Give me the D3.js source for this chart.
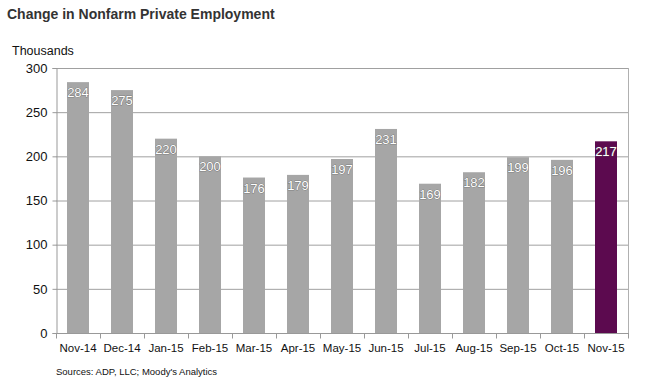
<!DOCTYPE html>
<html><head><meta charset="utf-8">
<script src="https://cdn.jsdelivr.net/npm/d3@7"></script>
<style>
body{margin:0;background:#fff;}
text{font-family:"Liberation Sans",Arial,sans-serif;}
</style></head>
<body>
<svg id="chart" width="653" height="383"></svg>
<script>
const categories = ["Nov-14","Dec-14","Jan-15","Feb-15","Mar-15","Apr-15","May-15","Jun-15","Jul-15","Aug-15","Sep-15","Oct-15","Nov-15"];
const values = [284,275,220,200,176,179,197,231,169,182,199,196,217];
const yTicks = [0,50,100,150,200,250,300];
const title = "Change in Nonfarm Private Employment";
const unitLabel = "Thousands";
const source = "Sources: ADP,  LLC; Moody's  Analytics";

const svg = d3.select("#chart");
const m = {left:56, right:628, top:68, bottom:333};
const x = d3.scaleBand().domain(categories).range([m.left, m.right]).paddingInner(0.5).paddingOuter(0.25);
const y = d3.scaleLinear().domain([0,300]).range([m.bottom, m.top]);

svg.append("text").attr("x",7).attr("y",19).attr("font-size",14).attr("font-weight","bold").attr("fill","#333").text(title);
svg.append("text").attr("x",12).attr("y",55).attr("font-size",12.5).attr("fill","#111").text(unitLabel);

// gridlines
svg.append("g").selectAll("line").data(yTicks.filter(d=>d>0)).join("line")
  .attr("x1",m.left).attr("x2",m.right).attr("y1",d=>y(d)+0.5).attr("y2",d=>y(d)+0.5)
  .attr("stroke","#a0a0a0").attr("stroke-width",1);
// right border
svg.append("line").attr("x1",m.right+0.5).attr("x2",m.right+0.5).attr("y1",m.top).attr("y2",m.bottom).attr("stroke","#b0b0b0");

// bars
svg.append("g").selectAll("rect").data(values).join("rect")
  .attr("x",(d,i)=>x(categories[i])).attr("width",x.bandwidth())
  .attr("y",d=>y(d)).attr("height",d=>y(0)-y(d))
  .attr("fill",(d,i)=>i===values.length-1?"#5c0a4f":"#a6a6a6");

// labels
const lab = svg.append("g").selectAll("text").data(values).join("text")
  .attr("x",(d,i)=>x(categories[i])+x.bandwidth()/2).attr("y",d=>y(d)+15)
  .attr("text-anchor","middle").attr("font-size",13).attr("fill","#fff")
  .attr("stroke","#555").attr("stroke-width",0.6).attr("paint-order","stroke")
  .text(d=>d);

// y axis
const yAxis = d3.axisLeft(y).tickValues(yTicks).tickSize(4).tickPadding(5);
const gy = svg.append("g").attr("transform",`translate(${m.left+0.5},0)`).call(yAxis);
gy.select(".domain").attr("stroke","#999");
gy.selectAll(".tick line").attr("stroke","#999");
gy.selectAll("text").attr("font-size",13).attr("fill","#111").attr("font-family","Liberation Sans, Arial, sans-serif");

// x axis
const xAxis = d3.axisBottom(x).tickSize(0).tickPadding(10);
const gx = svg.append("g").attr("transform",`translate(0,${m.bottom+0.5})`).call(xAxis);
gx.select(".domain").attr("stroke","#999").attr("d",`M${m.left},0H${m.right+1}`);
gx.selectAll("text").attr("font-size",11.5).attr("fill","#111").attr("font-family","Liberation Sans, Arial, sans-serif");
const step = x.step();
const bounds = d3.range(categories.length+1).map(i=>m.left + i*step);
gx.selectAll(".sep").data(bounds).join("line").attr("class","sep")
  .attr("x1",d=>d+0.5).attr("x2",d=>d+0.5).attr("y1",0).attr("y2",5).attr("stroke","#999");

svg.append("text").attr("x",56).attr("y",375).attr("font-size",9.5).attr("fill","#111").text(source);
</script>
</body></html>
